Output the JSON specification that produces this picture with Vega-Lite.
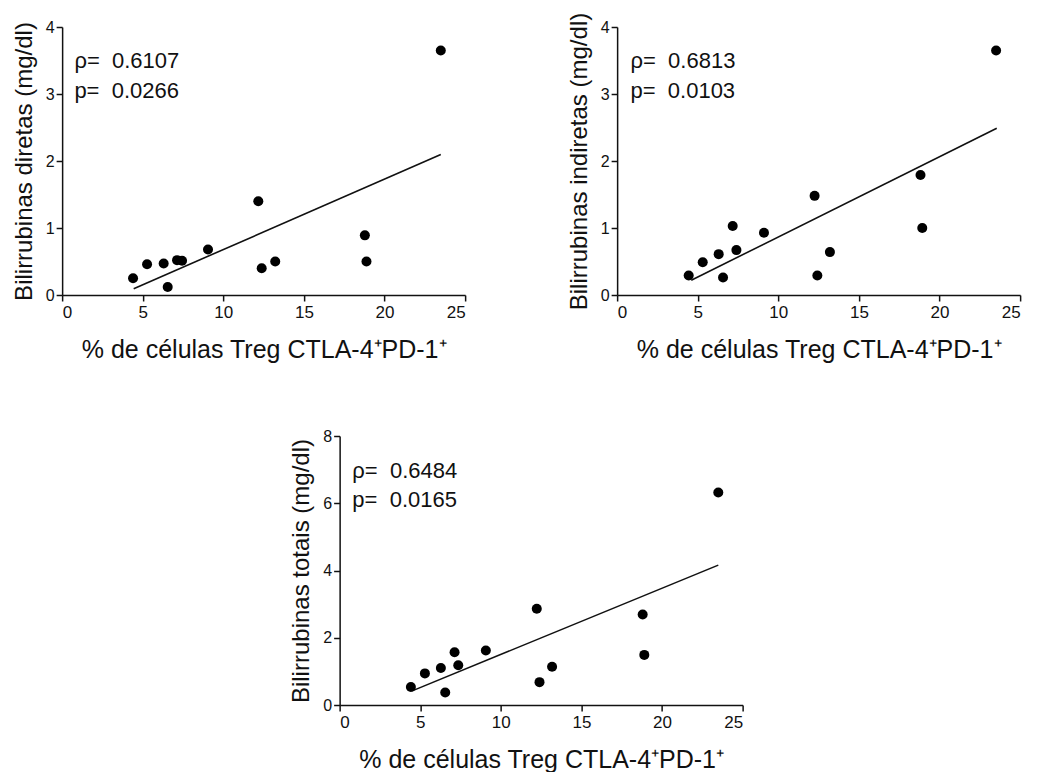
{
  "$schema": "https://vega.github.io/schema/vega-lite/v6.json",
  "background": "white",
  "padding": {"left": 12, "top": 12, "right": 5, "bottom": 0},
  "config": {
    "font": "Liberation Sans",
    "view": {"stroke": null},
    "axis": {
      "domainColor": "#111111",
      "tickColor": "#111111",
      "labelColor": "#111111",
      "titleColor": "#111111",
      "labelFont": "Liberation Sans",
      "titleFont": "Liberation Sans",
      "titleFontWeight": "normal",
      "domainWidth": 1.5,
      "tickWidth": 1.5,
      "tickSize": 6,
      "grid": false
    },
    "axisX": {"titlePadding": 17, "labelFontSize": 17, "titleFontSize": 25, "labelPadding": 3},
    "axisY": {"titlePadding": 9, "format": "d", "labelFontSize": 16, "titleFontSize": 24, "labelPadding": 2}
  },
  "datasets": {
    "d": [
      {"x": 4.40, "y": 0.25}, {"x": 5.27, "y": 0.46}, {"x": 6.30, "y": 0.47},
      {"x": 6.55, "y": 0.12}, {"x": 7.13, "y": 0.52}, {"x": 7.44, "y": 0.51},
      {"x": 9.05, "y": 0.68}, {"x": 12.17, "y": 1.40}, {"x": 12.38, "y": 0.40},
      {"x": 13.22, "y": 0.50}, {"x": 18.78, "y": 0.89}, {"x": 18.88, "y": 0.50},
      {"x": 23.49, "y": 3.65}
    ],
    "dfit": [{"x": 4.44, "y": 0.094}, {"x": 23.49, "y": 2.097}],
    "dtxt": [{"x": 0.76, "y": 3.39, "t": "ρ=\u00a0\u00a00.6107"}, {"x": 0.76, "y": 2.94, "t": "p=\u00a0\u00a00.0266"}],
    "i": [
      {"x": 4.44, "y": 0.29}, {"x": 5.31, "y": 0.49}, {"x": 6.30, "y": 0.61},
      {"x": 6.57, "y": 0.26}, {"x": 7.17, "y": 1.03}, {"x": 7.40, "y": 0.67},
      {"x": 9.11, "y": 0.93}, {"x": 12.25, "y": 1.48}, {"x": 12.42, "y": 0.29},
      {"x": 13.20, "y": 0.64}, {"x": 18.82, "y": 1.79}, {"x": 18.93, "y": 1.00},
      {"x": 23.51, "y": 3.65}
    ],
    "ifit": [{"x": 4.6, "y": 0.22}, {"x": 23.55, "y": 2.49}],
    "itxt": [{"x": 0.83, "y": 3.39, "t": "ρ=\u00a0\u00a00.6813"}, {"x": 0.83, "y": 2.94, "t": "p=\u00a0\u00a00.0103"}],
    "t": [
      {"x": 4.42, "y": 0.535}, {"x": 5.29, "y": 0.94}, {"x": 6.28, "y": 1.10},
      {"x": 6.55, "y": 0.37}, {"x": 7.13, "y": 1.57}, {"x": 7.36, "y": 1.18},
      {"x": 9.07, "y": 1.62}, {"x": 12.23, "y": 2.86}, {"x": 12.40, "y": 0.68},
      {"x": 13.18, "y": 1.14}, {"x": 18.80, "y": 2.69}, {"x": 18.90, "y": 1.49},
      {"x": 23.49, "y": 6.32}
    ],
    "tfit": [{"x": 4.5, "y": 0.42}, {"x": 23.49, "y": 4.16}],
    "ttxt": [{"x": 0.79, "y": 6.74, "t": "ρ=\u00a0\u00a00.6484"}, {"x": 0.79, "y": 5.88, "t": "p=\u00a0\u00a00.0165"}]
  },
  "spacing": 66,
  "center": true,
  "vconcat": [
    {
      "spacing": 101,
      "hconcat": [
        {
          "width": 403, "height": 268,
          "layer": [
            {
              "data": {"name": "dfit"},
              "mark": {"type": "line", "color": "#111111", "strokeWidth": 1.6},
              "encoding": {
                "x": {"field": "x", "type": "quantitative", "scale": {"domain": [0, 25], "nice": false}, "axis": {"values": [0, 5, 10, 15, 20, 25], "title": "% de células Treg CTLA-4⁺PD-1⁺"}},
                "y": {"field": "y", "type": "quantitative", "scale": {"domain": [0, 4], "nice": false}, "axis": {"values": [0, 1, 2, 3, 4], "title": "Bilirrubinas diretas (mg/dl)"}}
              }
            },
            {
              "data": {"name": "d"},
              "mark": {"type": "circle", "color": "#000000", "opacity": 1, "size": 100},
              "encoding": {"x": {"field": "x", "type": "quantitative"}, "y": {"field": "y", "type": "quantitative"}}
            },
            {
              "data": {"name": "dtxt"},
              "mark": {"type": "text", "align": "left", "baseline": "alphabetic", "fontSize": 22, "color": "#111111"},
              "encoding": {"x": {"field": "x", "type": "quantitative"}, "y": {"field": "y", "type": "quantitative"}, "text": {"field": "t"}}
            }
          ]
        },
        {
          "width": 403, "height": 268,
          "layer": [
            {
              "data": {"name": "ifit"},
              "mark": {"type": "line", "color": "#111111", "strokeWidth": 1.6},
              "encoding": {
                "x": {"field": "x", "type": "quantitative", "scale": {"domain": [0, 25], "nice": false}, "axis": {"values": [0, 5, 10, 15, 20, 25], "title": "% de células Treg CTLA-4⁺PD-1⁺"}},
                "y": {"field": "y", "type": "quantitative", "scale": {"domain": [0, 4], "nice": false}, "axis": {"values": [0, 1, 2, 3, 4], "title": "Bilirrubinas indiretas (mg/dl)"}}
              }
            },
            {
              "data": {"name": "i"},
              "mark": {"type": "circle", "color": "#000000", "opacity": 1, "size": 100},
              "encoding": {"x": {"field": "x", "type": "quantitative"}, "y": {"field": "y", "type": "quantitative"}}
            },
            {
              "data": {"name": "itxt"},
              "mark": {"type": "text", "align": "left", "baseline": "alphabetic", "fontSize": 22, "color": "#111111"},
              "encoding": {"x": {"field": "x", "type": "quantitative"}, "y": {"field": "y", "type": "quantitative"}, "text": {"field": "t"}}
            }
          ]
        }
      ]
    },
    {
      "width": 403, "height": 269,
      "layer": [
        {
          "data": {"name": "tfit"},
          "mark": {"type": "line", "color": "#111111", "strokeWidth": 1.6},
          "encoding": {
            "x": {"field": "x", "type": "quantitative", "scale": {"domain": [0, 25], "nice": false}, "axis": {"values": [0, 5, 10, 15, 20, 25], "title": "% de células Treg CTLA-4⁺PD-1⁺"}},
            "y": {"field": "y", "type": "quantitative", "scale": {"domain": [0, 8], "nice": false}, "axis": {"values": [0, 2, 4, 6, 8], "title": "Bilirrubinas totais (mg/dl)"}}
          }
        },
        {
          "data": {"name": "t"},
          "mark": {"type": "circle", "color": "#000000", "opacity": 1, "size": 100},
          "encoding": {"x": {"field": "x", "type": "quantitative"}, "y": {"field": "y", "type": "quantitative"}}
        },
        {
          "data": {"name": "ttxt"},
          "mark": {"type": "text", "align": "left", "baseline": "alphabetic", "fontSize": 22, "color": "#111111"},
          "encoding": {"x": {"field": "x", "type": "quantitative"}, "y": {"field": "y", "type": "quantitative"}, "text": {"field": "t"}}
        }
      ]
    }
  ]
}
